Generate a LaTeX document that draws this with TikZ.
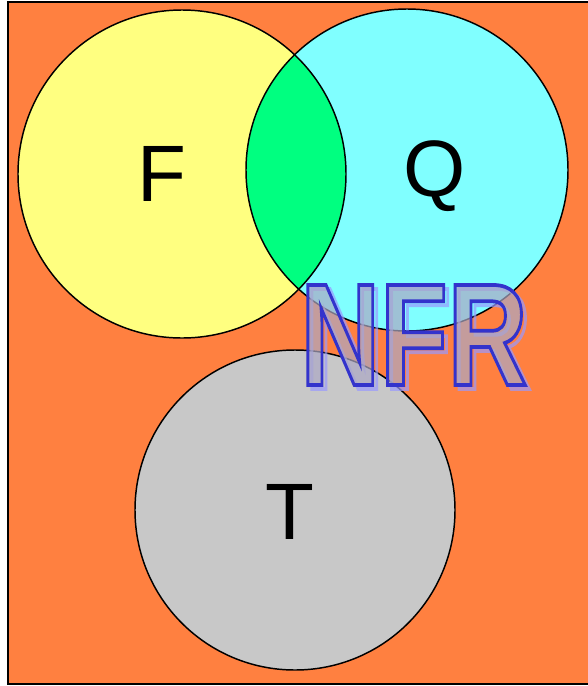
\documentclass[tikz,border=0pt]{standalone}
\usepackage{fontspec}
\setmainfont{Liberation Sans}
\usepackage{tikz}

\definecolor{bgorange}{RGB}{255,128,64}
\definecolor{fyellow}{RGB}{255,255,128}
\definecolor{qcyan}{RGB}{128,255,255}
\definecolor{lensgreen}{RGB}{0,255,128}
\definecolor{tgray}{RGB}{200,200,200}
\definecolor{nfrfill}{RGB}{172,168,196}

% glyph outlines only: #1 is the line width, #2 the stroke colour as r g b
\newcommand{\strokedtext}[3]{\special{pdf:literal direct 1 Tr #1 w #2 RG}#3\special{pdf:literal direct 0 Tr}}

\tikzset{
  ring/.style={draw=black, line width=1.1pt},
  letter/.style={font=\fontsize{60}{60}\selectfont, text=black, inner sep=0pt},
  nfr/.style={font=\fontsize{109}{109}\selectfont\bfseries, inner sep=0pt, xscale=0.76}
}

\begin{document}
\begin{tikzpicture}[x=0.75pt, y=-0.75pt]
\useasboundingbox (0,0) rectangle (588,686);
\clip (0,0) rectangle (588,686);
\draw[fill=bgorange, line width=1.5pt](8,2) rectangle (600,684);
% the three sets
\fill[fyellow](182,174) circle[radius=164];
\fill[qcyan](407,170) circle[radius=161];
\begin{scope}
\clip (182,174) circle[radius=164];
\fill[lensgreen](407,170) circle[radius=161];
\end{scope}
\draw[ring](182,174) circle[radius=164];
\draw[ring](407,170) circle[radius=161];
\draw[ring][fill=tgray](295,510) circle[radius=160];
\node (F) at (162,174) [letter]{F};
\node (Q) at (435,176) [letter]{Q};
\node (T) at (290,512) [letter]{T};
% NFR: shadow outline, see-through body, dark outline
\node (nfrshadow) at (418,339) [nfr][opacity=0.7]{\strokedtext{2.8}{0.6 0.6 1}{NFR}};
\node (nfrbody) at (414,335) [nfr][text=nfrfill, text opacity=0.7]{NFR};
\node (nfr) at (414,335) [nfr]{\strokedtext{2.8}{0.2 0.2 0.8}{NFR}};
\end{tikzpicture}
\end{document}
